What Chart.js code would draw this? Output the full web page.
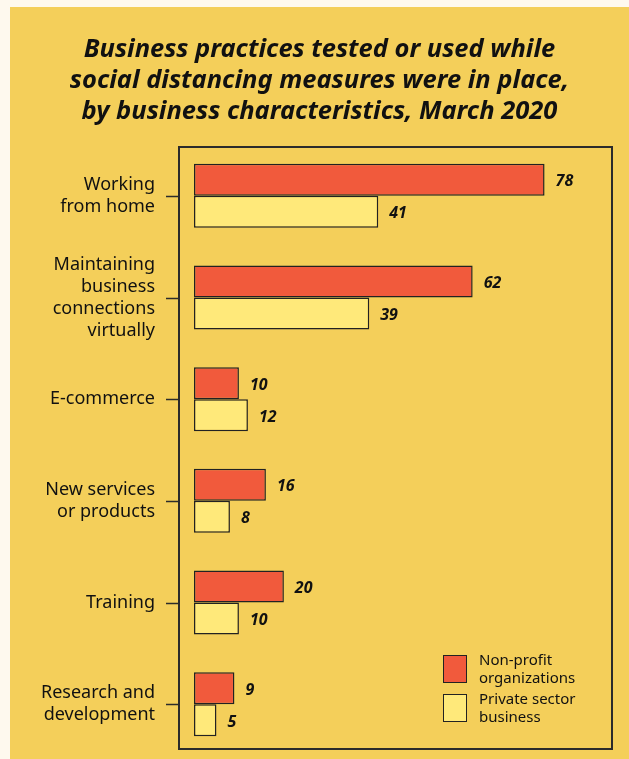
<!DOCTYPE html>
<html><head><meta charset="utf-8">
<script src="https://cdn.jsdelivr.net/npm/chart.js@4/dist/chart.umd.min.js"></script>
<style>
html,body{margin:0;padding:0;background:#fef9ee;}
#panel{position:absolute;left:10px;top:7px;width:619px;height:752px;background:#f4cf5a;}
#title{position:absolute;left:0;top:32px;width:639px;text-align:center;font-family:"Noto Sans",sans-serif;font-weight:700;font-style:italic;font-size:25.5px;line-height:31px;color:#111;}
#wrap{position:absolute;left:0;top:0;width:629px;height:759px;}
#legend{position:absolute;left:443px;top:651px;font-family:"Noto Sans",sans-serif;font-size:15px;line-height:17.5px;color:#111;}
.li{display:flex;align-items:flex-start;margin-bottom:4px;}
.sw{width:22px;height:26px;border:1.5px solid #222;margin-right:12px;margin-top:4px;}
</style></head>
<body>
<div id="panel"></div>
<div id="wrap"><canvas id="c" width="629" height="759"></canvas></div>
<div id="title">Business practices tested or used while<br>social distancing measures were in place,<br>by business characteristics, March 2020</div>
<div id="legend"></div>
<script>
const categories = [["Working","from home"],["Maintaining","business","connections","virtually"],"E-commerce",["New services","or products"],"Training",["Research and","development"]];
const seriesNames = ["Non-profit organizations","Private sector business"];
const nonProfit = [78,62,10,16,20,9];
const privateSector = [41,39,12,8,10,5];
const legendLines = [["Non-profit","organizations"],["Private sector","business"]];
const colors = ["#f15a3c","#ffe97a"];

const boxPlugin = {
  id:'boxPlugin',
  afterDraw(chart){
    const ctx = chart.ctx, a = chart.chartArea;
    ctx.save();
    ctx.strokeStyle = '#2b2b2b';
    ctx.lineWidth = 2;
    ctx.strokeRect(a.left, a.top+2, a.right-a.left, a.bottom-a.top-8);
    const ys = chart.scales.y;
    ctx.lineWidth = 1.5;
    ys.ticks.forEach((t,i)=>{
      const y = Math.round(ys.getPixelForTick(i))+0.5;
      ctx.beginPath(); ctx.moveTo(a.left-13,y); ctx.lineTo(a.left,y); ctx.stroke();
    });
    ctx.fillStyle = '#111';
    ctx.font = 'italic 700 16px "Noto Sans", sans-serif';
    ctx.textBaseline = 'middle';
    ctx.textAlign = 'left';
    chart.data.datasets.forEach((ds,di)=>{
      chart.getDatasetMeta(di).data.forEach((bar,i)=>{
        ctx.fillText(String(ds.data[i]), bar.x+11, bar.y+2);
      });
    });
    ctx.restore();
  }
};

new Chart(document.getElementById('c'),{
  type:'bar',
  data:{
    labels:categories,
    datasets:[
      {label:seriesNames[0],data:nonProfit,backgroundColor:colors[0],borderColor:'#222',borderWidth:1.5,borderSkipped:false,categoryPercentage:0.63,barPercentage:1.0},
      {label:seriesNames[1],data:privateSector,backgroundColor:colors[1],borderColor:'#222',borderWidth:1.5,borderSkipped:false,categoryPercentage:0.63,barPercentage:1.0}
    ]
  },
  options:{
    indexAxis:'y',
    responsive:false,
    animation:false,
    layout:{padding:{left:10,right:17,top:145,bottom:4}},
    plugins:{legend:{display:false},tooltip:{enabled:false},title:{display:false}},
    scales:{
      x:{display:false,min:-3.33,max:93},
      y:{
        grid:{display:false,drawTicks:false},
        border:{display:false},
        afterFit(s){s.width=169;s.paddingTop=0;s.paddingBottom=0;},
        ticks:{color:'#111',padding:24,font:{family:'"Noto Sans", sans-serif',size:18,lineHeight:'22px'}}
      }
    }
  },
  plugins:[boxPlugin]
});

const lg = document.getElementById('legend');
legendLines.forEach((lines,i)=>{
  const d = document.createElement('div'); d.className='li';
  const s = document.createElement('div'); s.className='sw'; s.style.background=colors[i];
  const t = document.createElement('div'); t.innerHTML = lines.join('<br>');
  d.appendChild(s); d.appendChild(t); lg.appendChild(d);
});
</script>
</body></html>
